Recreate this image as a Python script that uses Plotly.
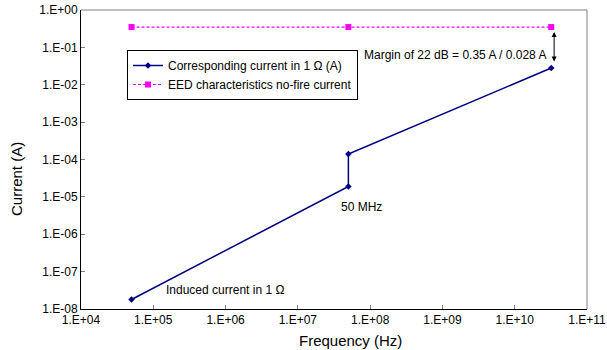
import math
import plotly.graph_objects as go

# Data
freq_hz = [5e4, 5e7, 5e7, 3.2e10]
current_a = [1.8e-8, 1.9e-5, 1.4e-4, 2.8e-2]
eed_freq_hz = [5e4, 5e7, 3.2e10]
eed_nofire_a = [0.35, 0.35, 0.35]
x_tick_vals = [1e4, 1e5, 1e6, 1e7, 1e8, 1e9, 1e10, 1e11]
x_tick_text = ["1.E+04", "1.E+05", "1.E+06", "1.E+07", "1.E+08", "1.E+09", "1.E+10", "1.E+11"]
y_tick_vals = [1e-8, 1e-7, 1e-6, 1e-5, 1e-4, 1e-3, 1e-2, 1e-1, 1e0]
y_tick_text = ["1.E-08", "1.E-07", "1.E-06", "1.E-05", "1.E-04", "1.E-03", "1.E-02", "1.E-01", "1.E+00"]

BLUE = "#000080"
PINK = "#FF00FF"
FONT = "Liberation Sans, Arial, sans-serif"

fig = go.Figure()
fig.add_trace(go.Scatter(
    x=freq_hz, y=current_a, mode="lines+markers",
    name="Corresponding current in 1 Ω (A)",
    line=dict(color=BLUE, width=1.5),
    marker=dict(symbol="diamond", size=5, color=BLUE),
))
fig.add_trace(go.Scatter(
    x=eed_freq_hz, y=eed_nofire_a, mode="lines+markers",
    name="EED characteristics no-fire current",
    line=dict(color=PINK, width=1.2, dash="3px,2px"),
    marker=dict(symbol="square", size=6, color=PINK),
))

axis_common = dict(
    type="log", showgrid=False, zeroline=False, automargin=False,
    showline=True, linecolor="black", linewidth=1,
    ticks="inside", ticklen=4, tickcolor="#808080",
    tickfont=dict(family=FONT, size=12, color="black"),
)
fig.update_xaxes(**axis_common, range=[4, 11], tickvals=x_tick_vals, ticktext=x_tick_text)
fig.update_yaxes(**axis_common, range=[-8, 0], tickvals=y_tick_vals, ticktext=y_tick_text)

# grey top/right frame
fig.add_shape(type="line", xref="paper", yref="paper", x0=0, x1=1, y0=1, y1=1,
              line=dict(color="#808080", width=1))
fig.add_shape(type="line", xref="paper", yref="paper", x0=1, x1=1, y0=0, y1=1,
              line=dict(color="#808080", width=1))

title_font = dict(family=FONT, size=15, color="black")
fig.add_annotation(text="Frequency (Hz)", xref="paper", yref="paper",
                   x=(350 - 81) / 506, y=-(340 - 309) / 299,
                   xanchor="center", yanchor="middle", showarrow=False, font=title_font)
fig.add_annotation(text="Current (A)", xref="paper", yref="paper",
                   x=-(81 - 16) / 506, y=1 - (179 - 10) / 299, textangle=-90,
                   xanchor="center", yanchor="middle", showarrow=False, font=title_font)

arrow_x = math.log10(freq_hz[-1]) + 0.04
fig.add_annotation(
    x=arrow_x, y=math.log10(eed_nofire_a[-1]), ax=arrow_x, ay=math.log10(current_a[-1]),
    xref="x", yref="y", axref="x", ayref="y", text="", showarrow=True,
    arrowhead=2, arrowside="end+start", arrowsize=1, arrowwidth=1, arrowcolor="black",
    standoff=5, startstandoff=5,
)
ann_font = dict(family=FONT, size=12, color="black")
fig.add_annotation(x=math.log10(freq_hz[-1]) - 0.04, y=-1.203, xref="x", yref="y",
                   text="Margin of 22 dB = 0.35 A / 0.028 A", showarrow=False,
                   xanchor="right", yanchor="middle", font=ann_font)
fig.add_annotation(x=7.887, y=-5.27, xref="x", yref="y",
                   text="50 MHz", showarrow=False, xanchor="center", yanchor="middle", font=ann_font)
fig.add_annotation(x=5.148, y=-7.49, xref="x", yref="y",
                   text="Induced current in 1 Ω", showarrow=False, xanchor="left", yanchor="middle",
                   font=ann_font)

fig.update_layout(
    width=607, height=350,
    margin=dict(l=81, r=20, t=10, b=41),
    paper_bgcolor="white", plot_bgcolor="white",
    showlegend=True,
    legend=dict(
        x=(127 - 81) / 506, y=1 - (50 - 10) / 299, xanchor="left", yanchor="top",
        bgcolor="white", bordercolor="black", borderwidth=1,
        font=dict(family=FONT, size=12, color="black"),
        tracegroupgap=0, itemwidth=30,
    ),
)

fig.write_html("out.html", config={"displayModeBar": False},
               post_script="document.body.style.margin='0px';")
